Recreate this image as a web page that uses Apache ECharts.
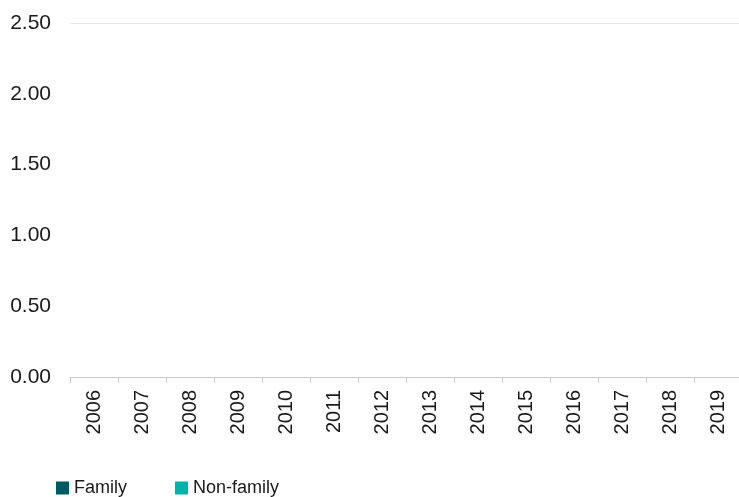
<!DOCTYPE html>
<html>
<head>
<meta charset="utf-8">
<script src="https://cdn.jsdelivr.net/npm/echarts@6/dist/echarts.min.js"></script>
<style>html,body{margin:0;padding:0;background:#fff;}#c{width:739px;height:497px;}</style>
</head>
<body>
<div id="c"></div>
<script>
var categories = ['2006','2007','2008','2009','2010','2011','2012','2013','2014','2015','2016','2017','2018','2019'];
var familyValues = [0,0,0,0,0,0,0,0,0,0,0,0,0,0];
var nonFamilyValues = [0,0,0,0,0,0,0,0,0,0,0,0,0,0];
var yTicks = [0, 0.5, 1, 1.5, 2, 2.5];

var chart = echarts.init(document.getElementById('c'));
var font = '"Liberation Sans", Arial, sans-serif';
chart.setOption({
  animation: false,
  textStyle: { fontFamily: font },
  grid: { left: 70, top: 23, width: 672, height: 354, outerBoundsMode: 'none', containLabel: false },
  legend: {
    left: 56, top: 479, padding: 0,
    itemWidth: 13, itemHeight: 13, itemGap: 48,
    icon: 'rect',
    textStyle: { fontSize: 18, color: '#1a1a1a', fontFamily: font },
    data: ['Family', 'Non-family']
  },
  xAxis: {
    type: 'category',
    data: categories,
    axisLine: { lineStyle: { color: '#c8c8c8', width: 1 } },
    axisTick: { show: true, length: 6, lineStyle: { color: '#c8c8c8' } },
    axisLabel: { rotate: 90, fontSize: 20, color: '#1a1a1a', margin: 13, fontFamily: font }
  },
  yAxis: {
    type: 'value',
    min: yTicks[0], max: yTicks[yTicks.length - 1], interval: 0.5,
    axisLine: { show: false },
    axisTick: { show: false },
    axisLabel: { fontSize: 21, color: '#1a1a1a', margin: 19, fontFamily: font,
      formatter: function (v) { return v.toFixed(2); } },
    splitLine: { show: true, lineStyle: { color: ['rgba(0,0,0,0)','rgba(0,0,0,0)','rgba(0,0,0,0)','rgba(0,0,0,0)','rgba(0,0,0,0)','#e6e6e6'] } }
  },
  series: [
    { name: 'Family', type: 'bar', data: familyValues, itemStyle: { color: '#005a62' } },
    { name: 'Non-family', type: 'bar', data: nonFamilyValues, itemStyle: { color: '#00b2a9' } }
  ]
});
</script>
</body>
</html>
